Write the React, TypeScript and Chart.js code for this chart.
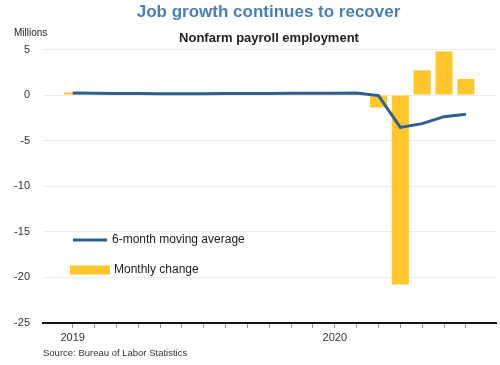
import React, { useEffect, useRef } from "react";
import { Chart, registerables } from "chart.js";

Chart.register(...registerables);

const months = [
  "Jan 2019", "Feb 2019", "Mar 2019", "Apr 2019", "May 2019", "Jun 2019",
  "Jul 2019", "Aug 2019", "Sep 2019", "Oct 2019", "Nov 2019", "Dec 2019",
  "Jan 2020", "Feb 2020", "Mar 2020", "Apr 2020", "May 2020", "Jun 2020", "Jul 2020",
];
const xTickLabels = [
  "2019", "", "", "", "", "", "", "", "", "", "", "",
  "2020", "", "", "", "", "", "",
];
const monthlyChange = [
  0.27, 0.0, 0.15, 0.21, 0.09, 0.18, 0.19, 0.21, 0.21, 0.19, 0.26, 0.18,
  0.21, 0.25, -1.37, -20.79, 2.73, 4.78, 1.76,
];
const movingAverage = [
  0.22, 0.19, 0.18, 0.17, 0.15, 0.15, 0.14, 0.17, 0.18, 0.18, 0.21, 0.21,
  0.21, 0.22, -0.05, -3.54, -3.13, -2.37, -2.11,
];
const yTicks = [5, 0, -5, -10, -15, -20, -25];

const FONT = "'Liberation Sans', Arial, sans-serif";
const BLUE = "#2f5f8f";
const YELLOW = "#ffc72c";

const decorPlugin = {
  id: "decor",
  afterDraw(chart: any) {
    const ctx = chart.ctx as CanvasRenderingContext2D;
    ctx.save();
    ctx.textBaseline = "middle";
    // Title
    ctx.fillStyle = "#4a7ebb";
    ctx.font = `bold 17px ${FONT}`;
    ctx.textAlign = "center";
    ctx.fillText("Job growth continues to recover", 268.5, 12);
    // Subtitle
    ctx.fillStyle = "#222";
    ctx.font = `bold 13px ${FONT}`;
    ctx.fillText("Nonfarm payroll employment", 269, 38.5);
    // Units
    ctx.textAlign = "left";
    ctx.font = `10px ${FONT}`;
    ctx.fillStyle = "#222";
    ctx.fillText("Millions", 14, 33.5);
    // Source
    ctx.font = `9.5px ${FONT}`;
    ctx.fillStyle = "#333";
    ctx.fillText("Source: Bureau of Labor Statistics", 43, 353);
    // Legend
    ctx.strokeStyle = BLUE;
    ctx.lineWidth = 3;
    ctx.beginPath();
    ctx.moveTo(73, 240);
    ctx.lineTo(107, 240);
    ctx.stroke();
    ctx.fillStyle = YELLOW;
    ctx.fillRect(70, 265.5, 40, 9);
    ctx.fillStyle = "#222";
    ctx.font = `12px ${FONT}`;
    ctx.fillText("6-month moving average", 112, 240);
    ctx.fillText("Monthly change", 114, 270);
    ctx.restore();
  },
};

export default function App() {
  const ref = useRef<HTMLCanvasElement>(null);
  useEffect(() => {
    if (!ref.current) return;
    const chart = new Chart(ref.current, {
      type: "bar",
      data: {
        datasets: [
          {
            type: "line",
            label: "6-month moving average",
            data: movingAverage.map((v, i) => ({ x: i, y: v })),
            borderColor: BLUE,
            borderWidth: 3,
            pointRadius: 0,
            tension: 0,
            order: 0,
          } as any,
          {
            type: "bar",
            label: "Monthly change",
            data: monthlyChange.map((v, i) => ({ x: i, y: v })),
            backgroundColor: YELLOW,
            barPercentage: 0.78,
            categoryPercentage: 1,
            order: 1,
          } as any,
        ],
      },
      options: {
        responsive: false,
        animation: false,
        layout: { padding: { top: 49.5, bottom: 22, left: 0, right: 4 } },
        plugins: {
          legend: { display: false },
          title: { display: false },
          tooltip: { enabled: false },
        },
        scales: {
          x: {
            type: "linear",
            offset: false,
            min: -1.36,
            max: 19.38,
            afterBuildTicks: (scale: any) => {
              scale.ticks = months.map((_, i) => ({ value: i }));
            },
            afterFit: (scale: any) => {
              scale.height = 20;
            },
            ticks: {
              autoSkip: false,
              maxRotation: 0,
              padding: 3,
              color: "#333",
              font: { family: FONT, size: 11 },
              callback: (value: any) => xTickLabels[value as number] ?? "",
            },
            grid: {
              offset: false,
              drawOnChartArea: false,
              drawTicks: true,
              tickLength: 5,
              color: "#999",
            },
            border: { display: true, color: "#111", width: 2 },
          },
          y: {
            min: -25,
            max: 5,
            afterBuildTicks: (scale: any) => {
              scale.ticks = yTicks.map((v) => ({ value: v }));
            },
            afterFit: (scale: any) => {
              scale.width = 43;
            },
            ticks: {
              padding: 13,
              color: "#333",
              font: { family: FONT, size: 11 },
            },
            grid: { color: "#ececec", drawTicks: false },
            border: { display: false },
          },
        },
      },
      plugins: [decorPlugin],
    } as any);
    return () => chart.destroy();
  }, []);
  return (
    <div style={{ position: "absolute", left: 0, top: 0, width: 500, height: 365, background: "#fff" }}>
      <canvas ref={ref} width={500} height={365} style={{ display: "block" }} />
    </div>
  );
}
